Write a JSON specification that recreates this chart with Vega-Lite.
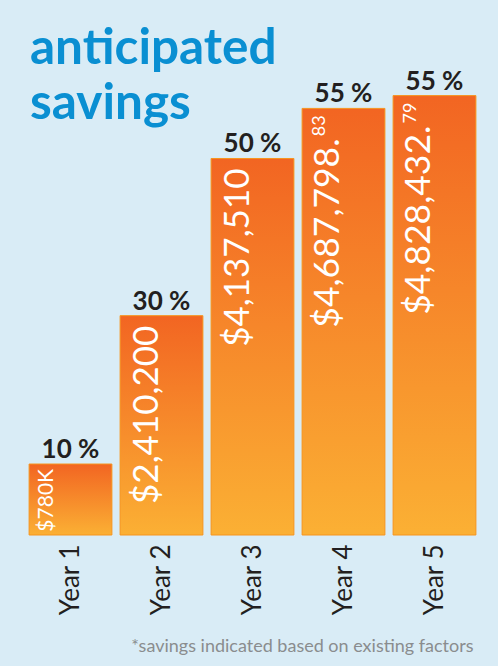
{
  "$schema": "https://vega.github.io/schema/vega-lite/v6.json",
  "width": 455,
  "height": 455,
  "autosize": {"type": "none"},
  "padding": {"left": 25, "top": 80, "right": 18, "bottom": 131},
  "background": "#d9ecf6",
  "config": {"view": {"stroke": null}},
  "title": {
    "text": ["anticipated", "savings"],
    "anchor": "start",
    "frame": "group",
    "font": "Lato",
    "fontWeight": "bold",
    "fontSize": 49.5,
    "color": "#0a8fd2",
    "lineHeight": 55,
    "baseline": "top",
    "offset": 0,
    "dx": 5,
    "dy": 61
  },
  "data": {
    "values": [
      {"year": "Year 1", "value": 780000, "pct": "10 %", "label": "$780K", "cents": ""},
      {"year": "Year 2", "value": 2410200, "pct": "30 %", "label": "$2,410,200", "cents": ""},
      {"year": "Year 3", "value": 4137510, "pct": "50 %", "label": "$4,137,510", "cents": ""},
      {"year": "Year 4", "value": 4687798.83, "pct": "55 %", "label": "$4,687,798.", "cents": "83"},
      {"year": "Year 5", "value": 4828432.79, "pct": "55 %", "label": "$4,828,432.", "cents": "79"}
    ]
  },
  "encoding": {
    "x": {
      "field": "year",
      "type": "nominal",
      "sort": null,
      "scale": {"paddingInner": 0.09, "paddingOuter": 0.045},
      "axis": {
        "labelAngle": -90,
        "labelFont": "Lato",
        "labelFontSize": 26,
        "labelColor": "#231f20",
        "ticks": false,
        "domain": false,
        "labelPadding": 9,
        "title": "*savings indicated based on existing factors",
        "titleFont": "Lato",
        "titleFontSize": 18,
        "titleFontWeight": "normal",
        "titleColor": "#8a8c8e",
        "titleAnchor": "end",
        "titleAlign": "right",
        "titleBaseline": "alphabetic",
        "titleX": 448,
        "titleY": 116
      }
    },
    "y": {
      "field": "value",
      "type": "quantitative",
      "scale": {"domain": [0, 5000000]},
      "axis": null
    }
  },
  "layer": [
    {
      "mark": {
        "type": "bar",
        "stroke": "#f7941d",
        "strokeWidth": 1,
        "color": {
          "gradient": "linear",
          "x1": 0, "y1": 0, "x2": 0, "y2": 1,
          "stops": [
            {"offset": 0, "color": "#f26522"},
            {"offset": 1, "color": "#fbb034"}
          ]
        }
      }
    },
    {
      "mark": {"type": "text", "font": "Lato", "fontWeight": "bold", "fontSize": 26, "color": "#231f20", "baseline": "alphabetic", "align": "center", "dy": -6},
      "encoding": {"text": {"field": "pct"}}
    },
    {
      "transform": [{"filter": "datum.year === 'Year 1'"}],
      "mark": {"type": "text", "font": "Lato", "fontSize": 21, "color": "white", "angle": -90, "align": "right", "baseline": "alphabetic", "dx": -5, "dy": -18},
      "encoding": {"text": {"field": "label"}}
    },
    {
      "transform": [{"filter": "datum.year === 'Year 2' || datum.year === 'Year 3'"}],
      "mark": {"type": "text", "font": "Lato", "fontSize": 35, "color": "white", "angle": -90, "align": "right", "baseline": "alphabetic", "dx": -10, "dy": -4},
      "encoding": {"text": {"field": "label"}}
    },
    {
      "transform": [{"filter": "datum.year === 'Year 4' || datum.year === 'Year 5'"}],
      "mark": {"type": "text", "font": "Lato", "fontSize": 35.5, "color": "white", "angle": -90, "align": "right", "baseline": "alphabetic", "dx": -30, "dy": -5},
      "encoding": {"text": {"field": "label"}}
    },
    {
      "transform": [{"filter": "datum.year === 'Year 4' || datum.year === 'Year 5'"}],
      "mark": {"type": "text", "font": "Lato", "fontSize": 18, "color": "white", "angle": -90, "align": "right", "baseline": "alphabetic", "dx": -7, "dy": -19},
      "encoding": {"text": {"field": "cents"}}
    }
  ]
}
